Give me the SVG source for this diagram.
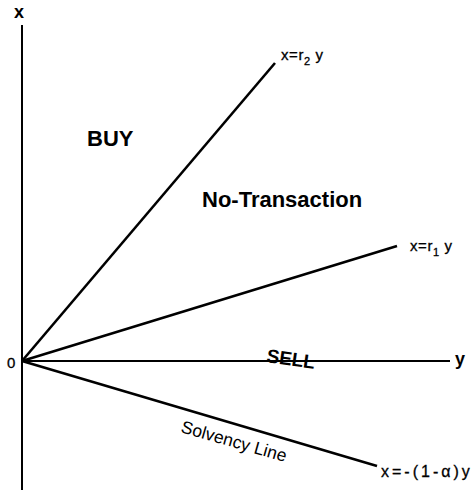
<svg xmlns="http://www.w3.org/2000/svg" width="474" height="490" viewBox="0 0 474 490">
<style>
.ax{stroke:#000;stroke-width:2;fill:none}
.ln{stroke:#000;stroke-width:2.6;fill:none}
.lb{font-family:"Liberation Sans",Arial,sans-serif;font-size:15px;fill:#000;stroke:#000;stroke-width:0.3;letter-spacing:0.6px}
.big{font-family:"Liberation Sans",Arial,sans-serif;font-size:22px;font-weight:bold;fill:#000}
.sub{font-size:11px}
</style>
<rect width="474" height="490" fill="#fff"/>
<g id="connectors">
<line class="ax" x1="22" y1="25" x2="22" y2="490"/>
<line class="ax" x1="22" y1="361" x2="450" y2="361"/>
<line class="ln" x1="22" y1="361" x2="275" y2="63"/>
<line class="ln" x1="22" y1="361" x2="397" y2="246"/>
<line class="ln" x1="22" y1="361" x2="377" y2="466"/>
</g>
<g id="axis-x"><text class="big" style="font-size:18px" x="14" y="18">x</text></g>
<g id="axis-y"><text class="big" style="font-size:18px" x="455" y="365">y</text></g>
<g id="origin"><text class="lb" x="7" y="368">0</text></g>
<g id="r2"><text class="lb" x="281" y="60">x=r<tspan class="sub" dy="5">2</tspan><tspan dy="-5"> y</tspan></text></g>
<g id="r1"><text class="lb" x="410" y="251">x=r<tspan class="sub" dy="5">1</tspan><tspan dy="-5"> y</tspan></text></g>
<g id="solv"><text class="lb" x="381" y="477" style="font-size:16px;letter-spacing:3px">x=-(1-α)y</text></g>
<g id="buy"><text class="big" x="87" y="146">BUY</text></g>
<g id="notrans"><text class="big" x="202" y="207">No-Transaction</text></g>
<g id="sell"><text class="big" style="font-size:19px" transform="translate(266,362) rotate(8)">SELL</text></g>
<g id="solvline"><text class="lb" style="font-size:17.5px;letter-spacing:0;stroke-width:0" transform="translate(180,432) rotate(16)">Solvency Line</text></g>
</svg>
